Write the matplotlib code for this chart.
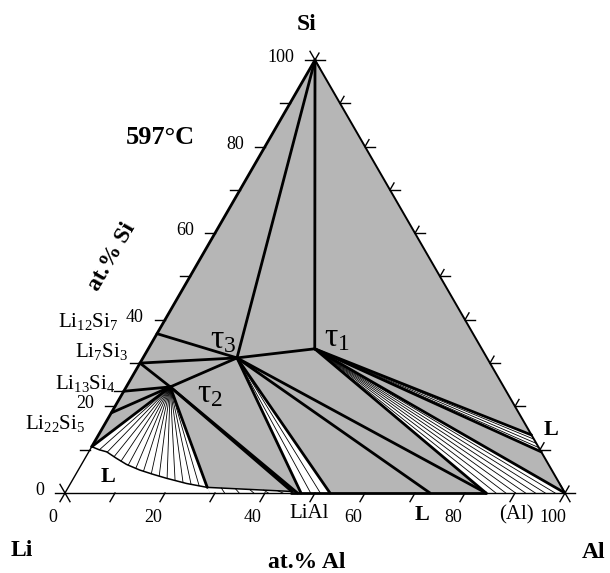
import numpy as np
import matplotlib
matplotlib.use("Agg")
import matplotlib.pyplot as plt

plt.rcParams['font.family'] = ['Liberation Serif', 'DejaVu Serif']
plt.rcParams['mathtext.fontset'] = 'custom'
plt.rcParams['mathtext.rm'] = 'Liberation Serif'
plt.rcParams['mathtext.it'] = 'Liberation Serif:italic'
plt.rcParams['mathtext.bf'] = 'Liberation Serif:bold'

si_corner = (0.0, 100.0)
al_corner = (100.0, 0.0)
tau1 = (33.3, 33.3)
tau2 = (8.8, 24.5)
tau3 = (18.8, 31.2)

# binary Li-Si compounds on the left edge (at.% Si)
lisi_names = ['Li$_{\\mathrm{12}}$Si$_{\\mathrm{7}}$', 'Li$_{\\mathrm{7}}$Si$_{\\mathrm{3}}$',
              'Li$_{\\mathrm{13}}$Si$_{\\mathrm{4}}$', 'Li$_{\\mathrm{22}}$Si$_{\\mathrm{5}}$']
lisi_si = [36.8, 30.0, 23.5, 18.5]

# Li-rich liquid boundary
liq_al = [0.0, 1.8, 3.6, 6.3, 9.0, 12.3, 15.5, 18.6, 23.2, 27.8]
liq_si = [10.7, 10.0, 9.5, 8.0, 6.6, 5.3, 4.3, 3.4, 2.2, 1.3]

# other phase boundary points
liq_bottom = (29.0, 0.0)        # liquid on Li-Al side
lial_liq = (45.2, 0.35)         # L + LiAl corner
lial_lo = 46.5                  # LiAl edge reached from tau2
tau3_fan = (47.2, 53.0)         # LiAl range reached from tau3
tau3_b1, tau3_b2 = 73.0, 84.2
al_liq_hi = (86.6, 13.4)        # Al-Si liquid on right edge
al_liq_lo = (90.5, 9.5)

ticks = np.arange(0, 101, 10)
tick_labels = [0, 20, 40, 60, 80, 100]

GRAY = '#b6b6b6'
TH = 2.0
TN = 0.6


def tern(al, si):
    al = np.asarray(al, float) / 100.0
    si = np.asarray(si, float) / 100.0
    return al + si / 2.0, si * np.sqrt(3) / 2.0


def px(x, y):
    # pixel position -> axes data (layout helper for labels)
    return (x - 65) / 500.0, (493 - y) / 500.0


def seg(ax, p, q, lw=TH, color='k'):
    x, y = tern([p[0], q[0]], [p[1], q[1]])
    ax.plot(x, y, color=color, lw=lw, solid_capstyle='round', zorder=4)


def along(pts, f):
    xs, ys = tern([p[0] for p in pts], [p[1] for p in pts])
    d = np.concatenate([[0], np.cumsum(np.hypot(np.diff(xs), np.diff(ys)))])
    t = np.asarray(f) * d[-1]
    return np.interp(t, d, xs), np.interp(t, d, ys)


def fan(ax, apex, far, n):
    xs, ys = tern([apex[0]] + [p[0] for p in far], [apex[1]] + [p[1] for p in far])
    ax.fill(xs, ys, color='white', zorder=2, lw=0)
    ax0, ay0 = tern(apex[0], apex[1])
    fx, fy = along(far, np.linspace(0, 1, n + 2)[1:-1])
    for x1, y1 in zip(fx, fy):
        ax.plot([ax0, x1], [ay0, y1], color='k', lw=TN, zorder=3)


fig = plt.figure(figsize=(6.1, 5.73), dpi=100)
ax = fig.add_axes([0, 0, 1, 1])
ax.set_xlim(-0.13, 1.09)
ax.set_ylim(-0.16, 0.986)
ax.set_aspect('equal')
ax.axis('off')

# whole section grey
tx, ty = tern([0, 100, 0], [0, 0, 100])
ax.fill(tx, ty, color=GRAY, zorder=1, lw=0)

# liquid field at the Li corner
lx, ly = tern([0] + liq_al + [liq_bottom[0]], [0] + liq_si + [0])
ax.fill(lx, ly, color='white', zorder=2, lw=0)

# two-phase fans
liq_pts = list(zip(liq_al, liq_si))
fan(ax, tau2, liq_pts, 14)
fan(ax, tau2, [lial_liq, (lial_lo, 0)], 2)
fan(ax, tau3, [(tau3_fan[0], 0), (tau3_fan[1], 0)], 2)
fan(ax, tau1, [(tau3_b2, 0), al_corner], 7)
fan(ax, tau1, [al_liq_hi, al_liq_lo], 3)

# L + LiAl band near the Li-Al side
bx, by = tern([liq_al[-1], lial_liq[0], lial_lo, liq_bottom[0]],
              [liq_si[-1], lial_liq[1], 0, 0])
ax.fill(bx, by, color='white', zorder=2, lw=0)
ux, uy = along([(liq_al[-1], liq_si[-1]), lial_liq], np.linspace(0, 1, 7)[1:-1])
dx, dy = along([liq_bottom, (lial_lo, 0)], np.linspace(0, 1, 7)[1:-1])
for a, b, c, d in zip(ux, uy, dx, dy):
    ax.plot([a, c], [b, d], color='k', lw=TN, zorder=3)

# liquid boundaries
cx, cy = tern(liq_al, liq_si)
ax.plot(cx, cy, color='k', lw=1.1, zorder=4)
seg(ax, (liq_al[-1], liq_si[-1]), lial_liq, lw=1.1)

# tie triangles
seg(ax, (0, lisi_si[0]), tau3)
seg(ax, (0, lisi_si[1]), tau3)
seg(ax, (0, lisi_si[1]), tau2)
seg(ax, (0, lisi_si[2]), tau2)
seg(ax, (0, lisi_si[3]), tau2)
seg(ax, tau2, tau3)
seg(ax, si_corner, tau3)
seg(ax, si_corner, tau1)
seg(ax, tau3, tau1)
seg(ax, tau2, (liq_al[0], liq_si[0]))
seg(ax, tau2, (liq_al[-1], liq_si[-1]))
seg(ax, tau2, lial_liq)
seg(ax, tau2, (lial_lo, 0))
seg(ax, tau3, (tau3_fan[0], 0))
seg(ax, tau3, (tau3_fan[1], 0))
seg(ax, tau3, (tau3_b1, 0))
seg(ax, tau3, (tau3_b2, 0))
seg(ax, tau1, (tau3_b2, 0))
seg(ax, tau1, al_corner)
seg(ax, tau1, al_liq_hi)
seg(ax, tau1, al_liq_lo)

# triangle frame
seg(ax, (0, 0), (0, liq_si[0]), lw=1.0)
seg(ax, (0, liq_si[0]), si_corner, lw=TH)
seg(ax, si_corner, al_corner, lw=1.4)
seg(ax, (0, 0), (lial_liq[0], 0), lw=1.0)
seg(ax, (lial_liq[0], 0), (tau3_b2, 0), lw=TH)
seg(ax, (tau3_b2, 0), al_corner, lw=1.0)

# ticks
L = 0.02
s3 = np.sqrt(3) / 2
for v in ticks:
    x, y = tern(0, v)
    ax.plot([x, x - L], [y, y], color='k', lw=1.0)
    x, y = tern(v, 0)
    ax.plot([x, x - 0.5 * L], [y, y - s3 * L], color='k', lw=1.0)
    x, y = tern(100 - v, v)
    ax.plot([x, x + L], [y, y], color='k', lw=1.0)
    ax.plot([x, x + 0.4 * L], [y, y + s3 * 0.8 * L], color='k', lw=1.0)
for cx0, cy0 in [(0, 0), (100, 0), (0, 100)]:
    x, y = tern(cx0, cy0)
    ax.plot([x - 0.5 * L, x + 0.5 * L], [y + s3 * L, y - s3 * L], color='k', lw=1.0)
x, y = tern(0, lisi_si[2])
ax.plot([x, x - L], [y, y], color='k', lw=1.0)

# tick labels
for v in tick_labels:
    x, y = tern(0, v)
    ax.text(x - 0.042, y + 0.005, str(v), ha='right', va='center', fontsize=13)
    x, y = tern(v, 0)
    ax.text(x - 0.024, y - 0.05, str(v), ha='center', va='center', fontsize=13)

# compound labels
lab_pos = [(118, 322), (128, 352), (115, 383), (85, 424)]
for name, (lx0, ly0) in zip(lisi_names, lab_pos):
    ax.text(*px(lx0, ly0), name, ha='right', va='center', fontsize=15)

ax.text(*px(223, 340), 'τ$_{\\mathrm{3}}$', ha='center', va='center', fontsize=24)
ax.text(*px(337, 338), 'τ$_{\\mathrm{1}}$', ha='center', va='center', fontsize=24)
ax.text(*px(210, 394), 'τ$_{\\mathrm{2}}$', ha='center', va='center', fontsize=24)

bold = dict(fontweight='bold', ha='center', va='center')
ax.text(*px(108, 477), 'L', fontsize=16, **bold)
ax.text(*px(422, 515), 'L', fontsize=16, **bold)
ax.text(*px(551, 430), 'L', fontsize=16, **bold)
ax.text(*px(309, 513), 'LiAl', fontsize=15, ha='center', va='center')
ax.text(*px(516, 515), '(Al)', fontsize=15, ha='center', va='center')

ax.text(*px(307, 25), 'Si', fontsize=17, **bold)
ax.text(*px(22, 551), 'Li', fontsize=17, **bold)
ax.text(*px(594, 552), 'Al', fontsize=17, **bold)
ax.text(*px(307, 563), 'at.% Al', fontsize=17, **bold)
ax.text(*px(112, 257), 'at.% Si', fontsize=17, rotation=60, **bold)
ax.text(*px(160, 137), '597°C', fontsize=19, **bold)

fig.savefig('out.png', dpi=100)
